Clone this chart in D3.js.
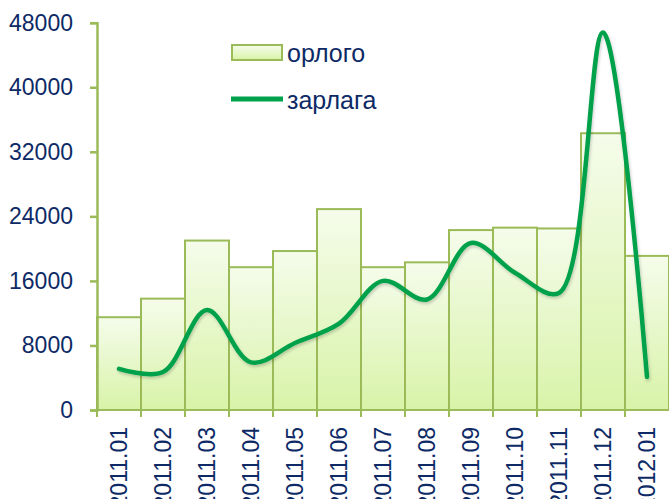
<!DOCTYPE html>
<html>
<head>
<meta charset="utf-8">
<script src="https://cdn.jsdelivr.net/npm/d3@7"></script>
<style>
body { margin: 0; background: #fff; }
svg { display: block; }
.tick text { fill: #0d2a66; font-family: "Liberation Sans", Arial, sans-serif; font-size: 23px; }
</style>
</head>
<body>
<div id="chart"></div>
<script>
var months = ["2011.01","2011.02","2011.03","2011.04","2011.05","2011.06","2011.07",
  "2011.08","2011.09","2011.10","2011.11","2011.12","2012.01"];
// орлого (bars)
var orlogo = [11500, 13800, 21000, 17700, 19700, 24900, 17700, 18300, 22300, 22600, 22500, 34300, 19100];
// зарлага (smoothed line)
var zarlaga = [5100, 4700, 12400, 5900, 8300, 10700, 16000, 13700, 20700, 17000, 14500, 46800, 4100];
var yTicks = [0, 8000, 16000, 24000, 32000, 40000, 48000];

var width = 669, height = 499;
var axisGreen = "#9bbb59", lineGreen = "#00a14b", textBlue = "#0d2a66";

var svg = d3.select("#chart").append("svg")
  .attr("width", width)
  .attr("height", height);

var defs = svg.append("defs");
var grad = defs.append("linearGradient")
  .attr("id", "barFill")
  .attr("x1", 0).attr("y1", 0).attr("x2", 0).attr("y2", 1);
grad.append("stop").attr("offset", "0%").attr("stop-color", "#f5fceb");
grad.append("stop").attr("offset", "100%").attr("stop-color", "#d8f3a8");

var shadow = defs.append("filter").attr("id", "shadow")
  .attr("x", "-10%").attr("y", "-10%").attr("width", "120%").attr("height", "120%");
shadow.append("feDropShadow")
  .attr("dx", 1).attr("dy", 2).attr("stdDeviation", 1.5)
  .attr("flood-color", "#000").attr("flood-opacity", 0.2);

var x = d3.scaleBand()
  .domain(months)
  .range([97, 669])
  .padding(0);

var y = d3.scaleLinear()
  .domain([0, 48000])
  .range([410, 22.7]);

// bars
svg.selectAll(".bar")
  .data(orlogo)
  .enter().append("rect")
    .attr("class", "bar")
    .attr("x", function(d, i){ return x(months[i]); })
    .attr("y", function(d){ return y(d); })
    .attr("width", x.bandwidth())
    .attr("height", function(d){ return y(0) - y(d); })
    .attr("fill", "url(#barFill)")
    .attr("stroke", axisGreen)
    .attr("stroke-width", 2);

// y axis
var yAxis = d3.axisLeft(y)
  .tickValues(yTicks)
  .tickFormat(d3.format("d"))
  .tickSize(7)
  .tickPadding(17);

var gy = svg.append("g")
  .attr("transform", "translate(97,0)")
  .call(yAxis);
gy.select(".domain").attr("stroke", axisGreen).attr("stroke-width", 2.5);
gy.selectAll(".tick line").attr("stroke", axisGreen).attr("stroke-width", 2.5);

// x axis
var xAxis = d3.axisBottom(x)
  .tickSize(7)
  .tickSizeOuter(0)
  .tickPadding(0);

var gx = svg.append("g")
  .attr("transform", "translate(0,410)")
  .call(xAxis);
gx.select(".domain")
  .attr("stroke", axisGreen).attr("stroke-width", 3.5)
  .attr("filter", "url(#shadow)");
gx.selectAll(".tick line")
  .attr("stroke", axisGreen).attr("stroke-width", 2)
  .attr("transform", "translate(" + (-x.bandwidth() / 2) + ",0)");
gx.selectAll(".tick text")
  .attr("transform", "rotate(-90)")
  .attr("x", -17)
  .attr("y", 0)
  .attr("dy", "0.36em")
  .style("text-anchor", "end");

// smoothed line
var line = d3.line()
  .x(function(d, i){ return x(months[i]) + x.bandwidth() / 2; })
  .y(function(d){ return y(d); })
  .curve(d3.curveCatmullRom.alpha(0.5));

svg.append("path")
  .datum(zarlaga)
  .attr("fill", "none")
  .attr("stroke", lineGreen)
  .attr("stroke-width", 4.5)
  .attr("stroke-linecap", "round")
  .attr("filter", "url(#shadow)")
  .attr("d", line);

// legend
var legend = svg.append("g")
  .style("font-family", "\"Liberation Sans\", Arial, sans-serif")
  .style("font-size", "25px")
  .style("fill", textBlue);

legend.append("rect")
  .attr("x", 232).attr("y", 45)
  .attr("width", 50).attr("height", 15)
  .attr("fill", "url(#barFill)")
  .attr("stroke", axisGreen)
  .attr("stroke-width", 2);
legend.append("text")
  .attr("x", 287).attr("y", 62)
  .text("орлого");

legend.append("line")
  .attr("x1", 231).attr("x2", 283)
  .attr("y1", 99).attr("y2", 99)
  .attr("stroke", lineGreen)
  .attr("stroke-width", 5);
legend.append("text")
  .attr("x", 287).attr("y", 109)
  .text("зарлага");
</script>
</body>
</html>
